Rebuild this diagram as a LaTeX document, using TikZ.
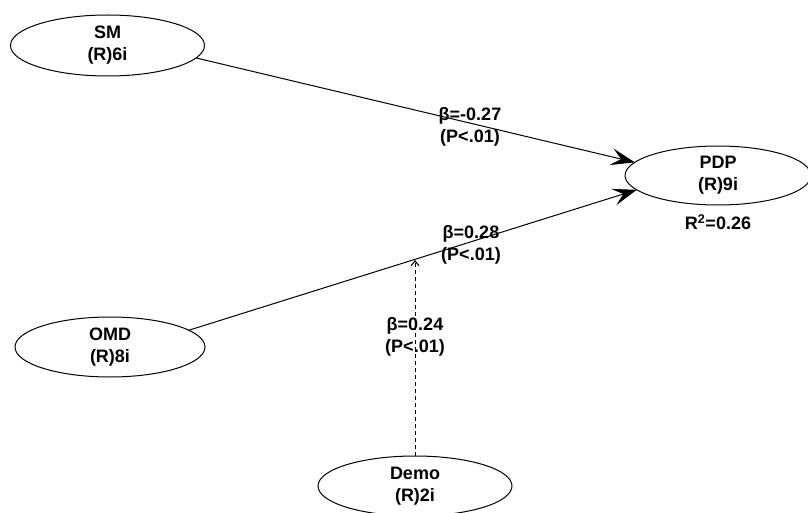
\documentclass[tikz,border=0pt]{standalone}
\usepackage{fontspec}
\setmainfont{Liberation Sans}
\usetikzlibrary{arrows.meta,shapes.geometric,calc}
\begin{document}
\begin{tikzpicture}[x=1pt,y=-1pt,
  lv/.style={ellipse, draw, line width=1pt, inner sep=0pt, outer sep=0pt,
    align=center, font=\bfseries\fontsize{18}{22}\selectfont},
  lbl/.style={align=center, inner sep=0pt, font=\bfseries\fontsize{18}{22}\selectfont},
  path/.style={line width=1pt, -{Stealth[length=24pt,width=17pt,inset=10pt]}},
  dpath/.style={line width=1pt, dash pattern=on 4pt off 3pt, -{Straight Barb[length=5pt,width=8pt]}}
]
\useasboundingbox (0,0) rectangle (808,513);
\clip (0,0) rectangle (808,513);
\node[lv, minimum width=194pt, minimum height=61pt] (sm) at (107.5,45.5) {SM\\(R)6i};
\node[lv, minimum width=186pt, minimum height=59pt] (pdp) at (718,175.5) {PDP\\(R)9i};
\node[lv, minimum width=190pt, minimum height=60pt] (omd) at (110,347) {OMD\\(R)8i};
\node[lv, minimum width=194pt, minimum height=60pt] (demo) at (415,486) {Demo\\(R)2i};
\node[lbl] (r2) at (718,222) {R\textsuperscript{2}=0.26};

\draw[path] (sm.-8) -- (pdp.171);
\draw[path] (omd.12) -- coordinate[pos=0.5] (mid) (pdp.190);
\draw[dpath] (demo.north) -- (demo.north |- mid);

\node[lbl] (l1) at (470,127) {β=-0.27\\(P<.01)};
\node[lbl] (l2) at (471,245) {β=0.28\\(P<.01)};
\node[lbl] (l3) at (415,337) {β=0.24\\(P<.01)};
\end{tikzpicture}
\end{document}
